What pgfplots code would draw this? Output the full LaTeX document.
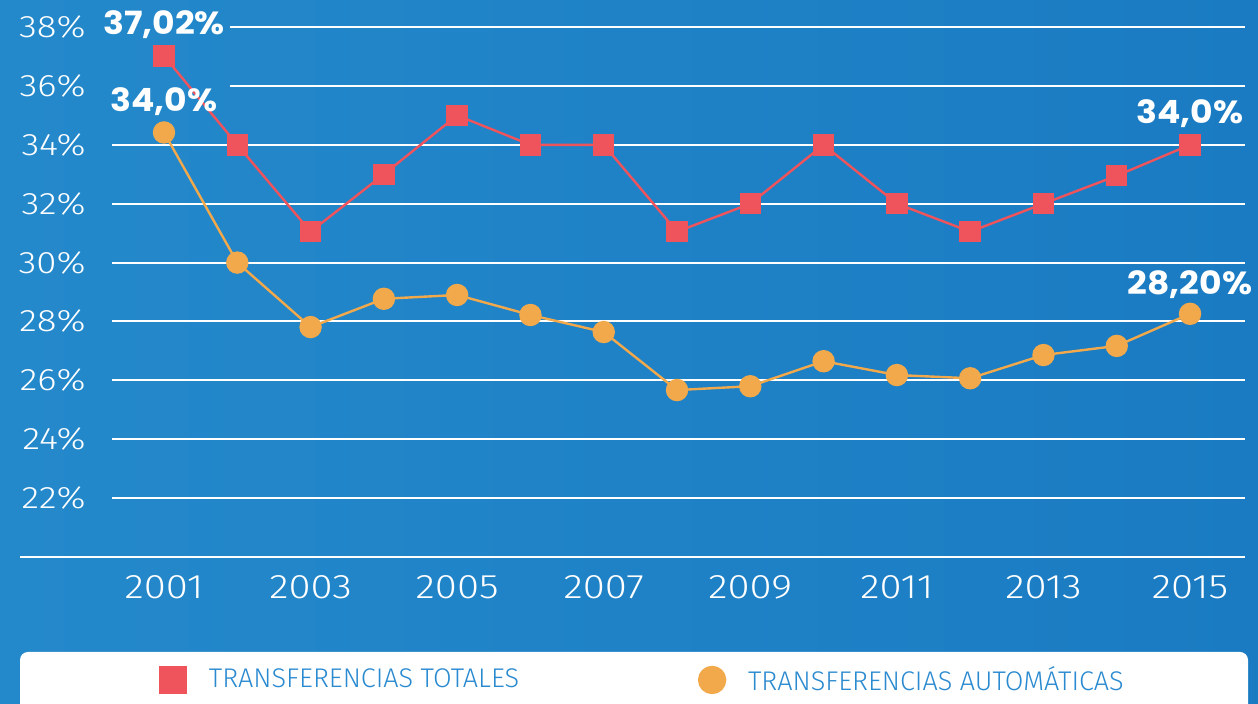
\documentclass[border=0pt]{standalone}
\usepackage{pgfplots}
\pgfplotsset{compat=1.18}
\usepackage{fontspec}
\setmainfont{Fira Sans Light}
\newfontfamily\tickfont{Fira Sans Light}[FakeStretch=1.18]
\newfontfamily\lblfont{Poppins}[FakeStretch=1.08]
\definecolor{bgA}{HTML}{2489CB}
\definecolor{bgB}{HTML}{1A7BC2}
\definecolor{redA}{HTML}{EF535B}
\definecolor{orgA}{HTML}{F2A94B}
\definecolor{legtxt}{HTML}{2A8AD0}

\pgfplotsset{
  redleg/.style={legend image code/.code={\draw[redA, mark=square*, mark size=6.25pt] plot coordinates {(0pt,0pt)};
      \path[draw=none] (0pt,0pt) -- (16pt,0pt);}},
  orgleg/.style={legend image code/.code={\draw[orgA, mark=*, mark size=6.5pt] plot coordinates {(0pt,0pt)};
      \path[draw=none] (0pt,0pt) -- (16pt,0pt);}},
}
\tikzset{lbl/.style={text=white, font=\lblfont\bfseries\fontsize{16}{18}\selectfont}}

% 1 px of the reference = 0.5pt
\begin{document}
\begin{tikzpicture}
\useasboundingbox (0,0) rectangle (629pt,352pt);
\clip (0,0) rectangle (629pt,352pt);
\shade[left color=bgA, right color=bgB] (0,0) rectangle (629pt,352pt);
% legend panel
\fill[white, rounded corners=4pt] (10pt,-10pt) rectangle (624pt,26pt);

\begin{axis}[
    at={(10pt,73.5pt)}, anchor=south west,
    scale only axis, width=612.5pt, height=278.5pt,
    xmin=1999.035, xmax=2015.75,
    ymin=20, ymax=38.92,
    clip=false,
    axis line style={draw=none},
    major tick length=0pt,
    xtick={2001,2003,...,2015},
    xticklabels={2001,2003,2005,2007,2009,2011,2013,2015},
    ytick={22,24,...,38},
    yticklabels={22\%,24\%,26\%,28\%,30\%,32\%,34\%,36\%,38\%},
    xticklabel style={anchor=center, yshift=-15pt, font=\tickfont\fontsize{17}{19}\selectfont, text=white},
    yticklabel style={anchor=east, inner sep=0pt, xshift=33pt, font=\tickfont\fontsize{15.5}{18}\selectfont, text=white},
    legend columns=2,
    legend style={at={(rel axis cs:0.1143,-0.2208)}, anchor=west, draw=none, fill=none,
        inner sep=0pt, font=\fontsize{13.5}{16}\selectfont, text=legtxt,
        /tikz/every even column/.append style={column sep=88pt}},
]
% grid lines
\draw[white, line width=1pt] (axis cs:1999.035,20) -- (axis cs:2015.75,20);
\draw[white, line width=1pt] (axis cs:2000.29,22) -- (axis cs:2015.75,22);
\draw[white, line width=1pt] (axis cs:2000.29,24) -- (axis cs:2015.75,24);
\draw[white, line width=1pt] (axis cs:2000.29,26) -- (axis cs:2015.75,26);
\draw[white, line width=1pt] (axis cs:2000.29,28) -- (axis cs:2015.75,28);
\draw[white, line width=1pt] (axis cs:2000.29,30) -- (axis cs:2015.75,30);
\draw[white, line width=1pt] (axis cs:2000.29,32) -- (axis cs:2015.75,32);
\draw[white, line width=1pt] (axis cs:2000.29,34) -- (axis cs:2015.75,34);
\draw[white, line width=1pt] (axis cs:2001.9,36) -- (axis cs:2015.75,36);
\draw[white, line width=1pt] (axis cs:2001.9,38) -- (axis cs:2015.75,38);

\addplot[redA, line width=1.2pt, mark=square*, mark size=4.75pt, redleg]
  coordinates {
  (2001,37.02) (2002,34) (2003,31.05) (2004,33) (2005,35) (2006,34) (2007,34)
  (2008,31.05) (2009,32) (2010,34) (2011,32) (2012,31.05) (2013,32) (2014,32.95) (2015,34)
  };
\addlegendentry{TRANSFERENCIAS TOTALES}

\addplot[orgA, line width=1.2pt, mark=*, mark size=5pt, orgleg]
  coordinates {
  (2001,34.42) (2002,30.0) (2003,27.81) (2004,28.77) (2005,28.9) (2006,28.22) (2007,27.64)
  (2008,25.67) (2009,25.8) (2010,26.65) (2011,26.18) (2012,26.07) (2013,26.86) (2014,27.17) (2015,28.26)
  };
\addlegendentry{TRANSFERENCIAS AUTOMÁTICAS}

\node[lbl, yshift=15.5pt] at (axis cs:2001,37.02) {37,02\%};
\node[lbl, yshift=15.5pt] at (axis cs:2001,34.42) {34,0\%};
\node[lbl, yshift=15.5pt] at (axis cs:2015,34) {34,0\%};
\node[lbl, yshift=14.5pt] at (axis cs:2015,28.26) {28,20\%};
\end{axis}
\end{tikzpicture}
\end{document}
